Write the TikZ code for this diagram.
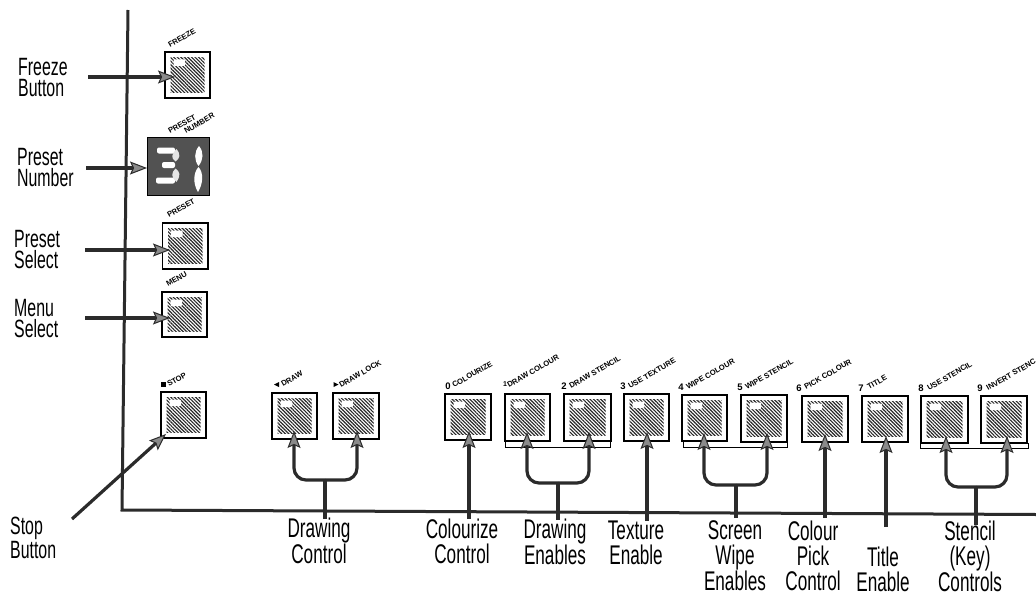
\documentclass[tikz,border=0pt]{standalone}
\usepackage{fontspec}
\setmainfont[FakeStretch=0.635]{Liberation Sans}
\newfontfamily\tinyfam{Liberation Sans}
\usetikzlibrary{arrows.meta,patterns.meta,calc}
\definecolor{ink}{HTML}{2B2B2B}
\definecolor{headfill}{HTML}{8A8A8A}
\tikzset{
  x=1pt,y=-1pt,
  btn/.style={draw=black,line width=1.5pt,fill=white,inner sep=0,rectangle},
  hatch/.style={pattern={Lines[angle=-45,distance=2.5pt,line width=1.15pt]},pattern color=black!85},
  patch/.style={fill=white,rounded corners=1pt},
  rail/.style={draw=black,line width=1pt},
  spine/.style={draw=ink,line width=3pt},
  feed/.style={draw=ink,line width=3.2pt},
  conn/.style={draw=ink,line width=3.2pt,-{Stealth[length=17pt,width=13pt,inset=3pt,fill=headfill,line width=1pt]}},
  fork/.style={conn,rounded corners=12pt},
  lab/.style={font=\fontsize{25}{21}\selectfont,align=left,inner sep=0,anchor=north west},
  blab/.style={font=\fontsize{27}{25}\selectfont,align=center,inner sep=0,anchor=north},
  tiny/.style={font=\tinyfam\bfseries\fontsize{7.6}{7.6}\selectfont,rotate=30,anchor=base west,inner sep=0},
  digit/.style={font=\tinyfam\bfseries\fontsize{9.5}{9.5}\selectfont,anchor=base,inner sep=0},
}
\newcommand\btnbox[5]{%
  \pgfmathsetmacro\bw{#4-#2}\pgfmathsetmacro\bh{#5-#3}%
  \node[btn,minimum width=\bw pt,minimum height=\bh pt] (#1) at ({(#2+#4)/2},{(#3+#5)/2}) {};
  \fill[hatch] ({#2+5.5},{#3+5.5}) rectangle ({#4-5.5},{#5-5.5});
  \fill[patch] ({#2+8.5},{#3+7.5}) rectangle ({#2+20},{#3+14});
}
\begin{document}
\begin{tikzpicture}
\useasboundingbox (0,0) rectangle (1036,594);
% spine
\coordinate (sp-top) at (128,10);
\coordinate (sp-corner) at (122,510);
\coordinate (sp-end) at (1036,514.5);
\draw[spine,line join=miter] (sp-top) -- (sp-corner) -- (sp-end);
% rails
\draw[rail] (505,441) -- (505,447) -- (610,447) -- (610,441);
\draw[rail] (683,441) -- (683,447) -- (787,447) -- (787,441);
\draw[rail] (920,443) -- (920,448) -- (1028,448) -- (1028,443);
% buttons
\btnbox{freeze}{165}{52}{210}{98}
\btnbox{preset}{162.5}{223}{208}{269}
\btnbox{menu}{162}{292}{207}{337}
\btnbox{stop}{161}{392}{206}{438}
\btnbox{draw}{272}{393}{317}{439}
\btnbox{lock}{333}{393}{379}{439}
\btnbox{colourize}{445}{394}{491}{440}
\btnbox{dcolour}{505}{394}{550}{441}
\btnbox{dstencil}{564}{394}{611}{441}
\btnbox{texture}{624}{394}{669}{441}
\btnbox{wcolour}{682}{395}{727}{441}
\btnbox{wstencil}{741}{395}{787}{442}
\btnbox{pick}{802}{396}{848}{442}
\btnbox{title}{862}{396}{908}{442}
\btnbox{ustencil}{921}{396}{968}{443}
\btnbox{istencil}{981}{396}{1027}{443}
% preset number display
\node[draw=black,line width=.8pt,fill=black!68,inner sep=0,minimum width=62pt,minimum height=58pt] (number) at (178,166.5) {};
\fill[white,rounded corners=2pt] (157,147.5) rectangle (175,153.5);
\fill[white,rounded corners=2pt] (162,162) rectangle (175,168);
\fill[white,rounded corners=2pt] (156,177.5) rectangle (175,183.5);
\fill[black!10] (176.5,149) .. controls (181,155) and (180,158) .. (175.5,161.5) .. controls (171,158) and (171,155) .. (176.5,149);
\fill[black!10] (175.5,168.5) .. controls (180,172) and (181,175) .. (176.5,182) .. controls (171,177) and (171,173) .. (175.5,168.5);
\fill[white] (199,146) .. controls (204,152) and (203.5,160) .. (198.5,166) .. controls (194,160) and (194,152) .. (199,146);
\fill[white] (198.5,167) .. controls (204,173) and (203,184) .. (198,192) .. controls (193,184) and (193,173) .. (198.5,167);
% button captions
\node[tiny] (t-freeze) at (170,48) {FREEZE};
\node[tiny] (t-pre) at (170,134) {PRESET};
\node[tiny] (t-num) at (186,134) {NUMBER};
\node[tiny] (t-preset) at (169,218) {PRESET};
\node[tiny] (t-menu) at (168,287) {MENU};
\fill (161,382) rectangle (165.5,387);
\node[tiny] (t-stop) at (169,387) {STOP};
\fill (274,384.5) -- (279,382) -- (279,387) -- cycle;
\node[tiny] (t-draw) at (283,387) {DRAW};
\fill (338.5,384.5) -- (333.5,382) -- (333.5,387) -- cycle;
\node[tiny] (t-lock) at (341,388) {DRAW LOCK};
\node[digit] (d0) at (448,389) {0};
\node[tiny] (t-col) at (454,388) {COLOURIZE};
\node[digit,font=\tinyfam\bfseries\fontsize{7}{7}\selectfont] (d1) at (505,386) {1};
\node[tiny] (t-dc) at (509,388) {DRAW COLOUR};
\node[digit] (d2) at (564,389) {2};
\node[tiny] (t-ds) at (571,389) {DRAW STENCIL};
\node[digit] (d3) at (623,389) {3};
\node[tiny] (t-tex) at (630,389) {USE TEXTURE};
\node[digit] (d4) at (681,390) {4};
\node[tiny] (t-wc) at (688,390) {WIPE COLOUR};
\node[digit] (d5) at (740,390) {5};
\node[tiny] (t-ws) at (747,390) {WIPE STENCIL};
\node[digit] (d6) at (799,391) {6};
\node[tiny] (t-pc) at (806,390) {PICK COLOUR};
\node[digit] (d7) at (861,391) {7};
\node[tiny] (t-ti) at (869,390) {TITLE};
\node[digit] (d8) at (921,391) {8};
\node[tiny] (t-us) at (929,391) {USE STENCIL};
\node[digit] (d9) at (980,391) {9};
\node[tiny] (t-is) at (988,391) {INVERT STENC};
% left labels
\node[lab] (l-freeze) at (18,58) {Freeze\\Button};
\node[lab] (l-number) at (17,148) {Preset\\Number};
\node[lab] (l-preset) at (14,230) {Preset\\Select};
\node[lab] (l-menu) at (14,299) {Menu\\Select};
\node[lab] (l-stop) at (10,517) {Stop\\Button};
% left arrows
\coordinate (a1) at (88,77);   \coordinate (b1) at (175,77);
\coordinate (a2) at (86,168);  \coordinate (b2) at (147,168);
\coordinate (a3) at (85,250);  \coordinate (b3) at (170,250);
\coordinate (a4) at (85,318);  \coordinate (b4) at (170,318);
\coordinate (a5) at (72,519);  \coordinate (b5) at (166,434);
\draw[conn] (a1) -- (b1);
\draw[conn] (a2) -- (b2);
\draw[conn] (a3) -- (b3);
\draw[conn] (a4) -- (b4);
\draw[conn] (a5) -- (b5);
% bottom labels
\node[blab] (l-dc) at (319,518) {Drawing\\Control};
\node[blab] (l-cc) at (462,519) {Colourize\\Control};
\node[blab] (l-de) at (555,519) {Drawing\\Enables};
\node[blab] (l-te) at (636,520.5) {Texture\\Enable};
\node[blab] (l-sw) at (735,520.5) {Screen\\Wipe\\Enables};
\node[blab] (l-cp) at (813,520.5) {Colour\\Pick\\Control};
\node[blab] (l-tt) at (883,547) {Title\\Enable};
\node[blab] (l-st) at (970,521) {Stencil\\(Key)\\Controls};
% bottom connectors
\coordinate (f1s) at (325,519); \coordinate (f1m) at (325,480);
\draw[feed] (f1s) -- (f1m);
\coordinate (f1a) at (294,431); \coordinate (f1b) at (357,431);
\draw[fork] (f1m) -| (f1a);
\draw[fork] (f1m) -| (f1b);
\coordinate (c1s) at (469,519); \coordinate (c1t) at (469,431);
\draw[conn] (c1s) -- (c1t);
\coordinate (f2s) at (558,520); \coordinate (f2m) at (558,483);
\draw[feed] (f2s) -- (f2m);
\coordinate (f2a) at (527,432); \coordinate (f2b) at (589,432);
\draw[fork] (f2m) -| (f2a);
\draw[fork] (f2m) -| (f2b);
\coordinate (c2s) at (647,521); \coordinate (c2t) at (647,432);
\draw[conn] (c2s) -- (c2t);
\coordinate (f3s) at (736,518); \coordinate (f3m) at (736,485);
\draw[feed] (f3s) -- (f3m);
\coordinate (f3a) at (704,433); \coordinate (f3b) at (767,433);
\draw[fork] (f3m) -| (f3a);
\draw[fork] (f3m) -| (f3b);
\coordinate (c3s) at (825,518); \coordinate (c3t) at (825,434);
\draw[conn] (c3s) -- (c3t);
\coordinate (c4s) at (886,527); \coordinate (c4t) at (886,436);
\draw[conn] (c4s) -- (c4t);
\coordinate (f4s) at (976,525); \coordinate (f4m) at (976,487);
\draw[feed] (f4s) -- (f4m);
\coordinate (f4a) at (946,436); \coordinate (f4b) at (1007,436);
\draw[fork] (f4m) -| (f4a);
\draw[fork] (f4m) -| (f4b);
\end{tikzpicture}
\end{document}
